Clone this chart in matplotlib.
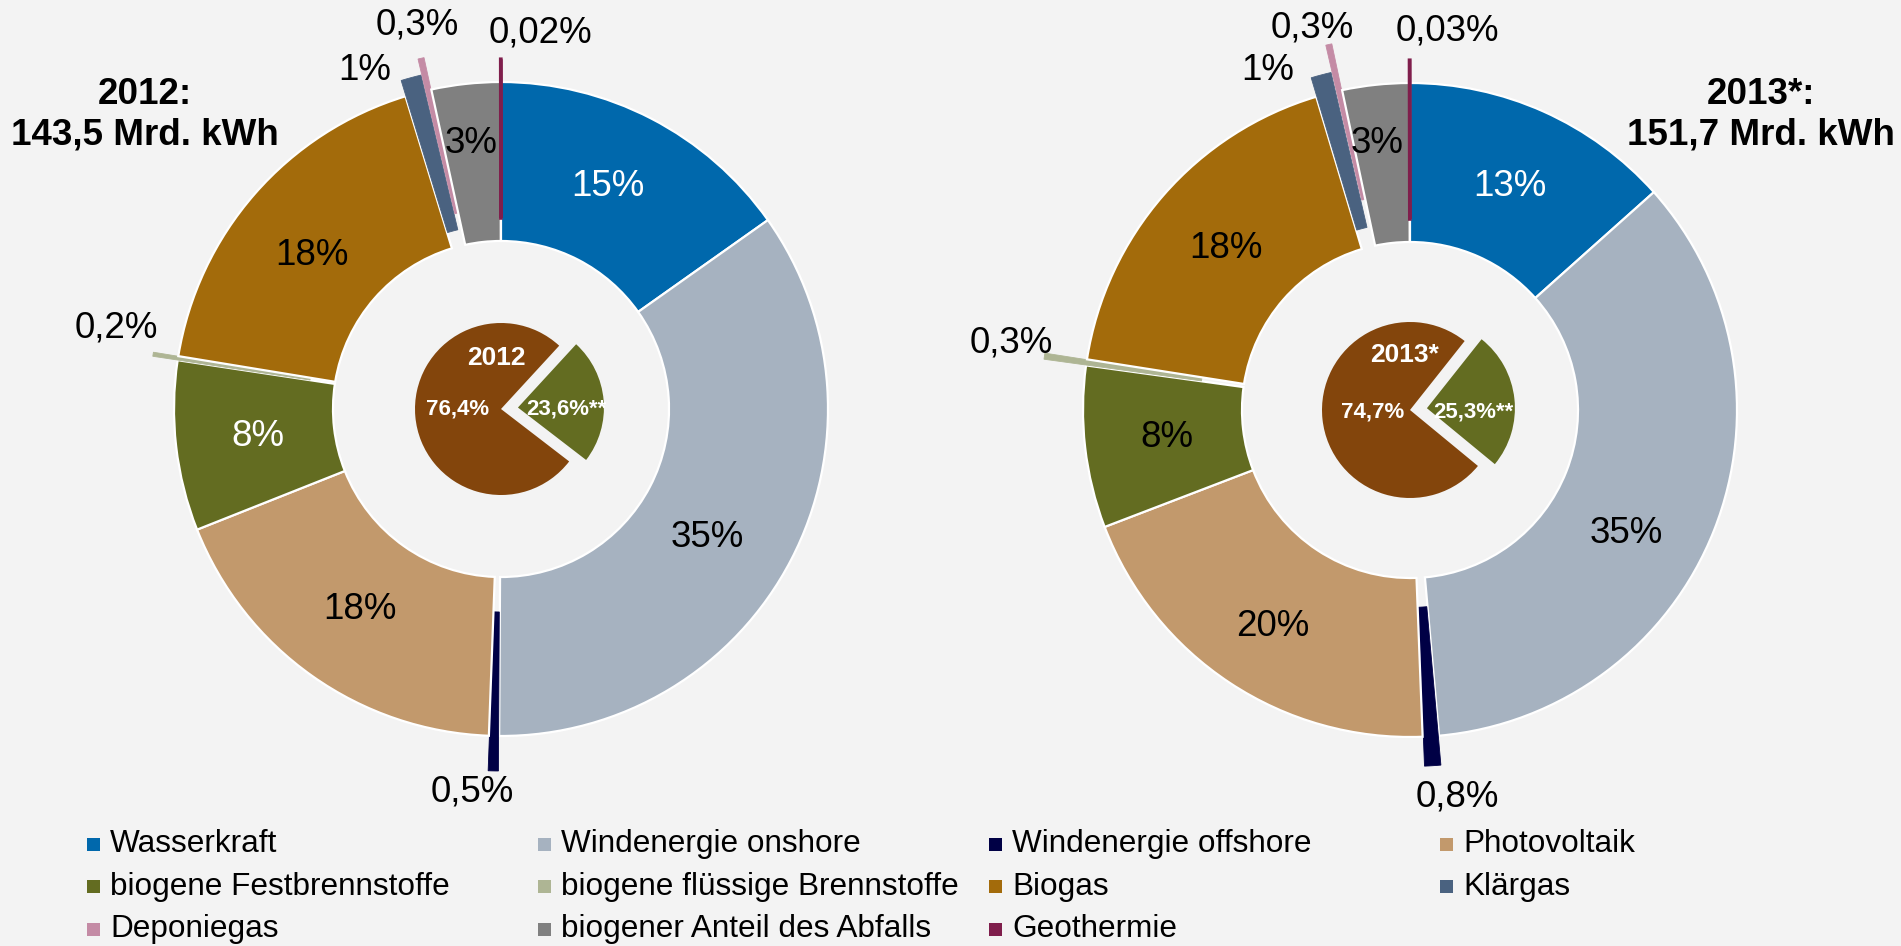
import matplotlib
matplotlib.use("Agg")
import matplotlib.pyplot as plt
from matplotlib.patches import Rectangle
import numpy as np

plt.rcParams['font.family'] = ['Liberation Sans', 'DejaVu Sans']

# ---------------- data ----------------
categories = ["Wasserkraft", "Windenergie onshore", "Windenergie offshore", "Photovoltaik",
              "biogene Festbrennstoffe", "biogene flüssige Brennstoffe", "Biogas", "Klärgas",
              "Deponiegas", "biogener Anteil des Abfalls", "Geothermie"]
shares_2012 = [15.2, 34.9, 0.5, 18.4, 8.4, 0.2, 17.7, 1.0, 0.3, 3.4, 0.02]
shares_2013 = [13.4, 35.2, 0.8, 19.8, 8.0, 0.3, 17.9, 1.0, 0.3, 3.3, 0.03]
labels_2012 = ["15%", "35%", "0,5%", "18%", "8%", "0,2%", "18%", "1%", "0,3%", "3%", "0,02%"]
labels_2013 = ["13%", "35%", "0,8%", "20%", "8%", "0,3%", "18%", "1%", "0,3%", "3%", "0,03%"]
inner_2012 = [23.6, 76.4]
inner_2013 = [25.3, 74.7]
inner_labels_2012 = ["23,6%**", "76,4%"]
inner_labels_2013 = ["25,3%**", "74,7%"]
year_2012 = "2012"
year_2013 = "2013*"
title_2012 = "2012:\n143,5 Mrd. kWh"
title_2013 = "2013*:\n151,7 Mrd. kWh"

# ---------------- style ----------------
BG = "#F3F3F3"
colors = ["#0068AC", "#A6B2C0", "#000045", "#C2996C", "#636C21", "#AEB594",
          "#A36B0B", "#4A6280", "#C48BA5", "#808080", "#7F1E4C"]
inner_colors = ["#636C21", "#83450C"]

W, H = 1901, 946
R = 327
RING = 159
LBL = 26.5

fig = plt.figure(figsize=(W / 100, H / 100), dpi=100, facecolor=BG)
ax = fig.add_axes([0, 0, 1, 1])
ax.set_facecolor(BG)


def donut(cx, cy, shares, labels, explode, outer_pos, ring_adj, white_idx,
          inner_shares, inner_labels, inner_r, inner_start, year, year_off, inner_off):
    centre = (cx, H - cy)
    wedges, _ = ax.pie(shares, colors=colors, radius=R, center=centre, startangle=90,
                       counterclock=False, explode=[e * R for e in explode],
                       wedgeprops=dict(width=RING, edgecolor="white", linewidth=1.6))
    for i in (2, 5, 7, 8):
        wedges[i].set_edgecolor(wedges[i].get_facecolor())
        wedges[i].set_linewidth(0.6)
    wedges[10].set_edgecolor(wedges[10].get_facecolor())
    wedges[10].set_linewidth(2.4)
    # labels in the ring
    for i in (0, 1, 3, 4, 6):
        w = wedges[i]
        mid = np.deg2rad((w.theta1 + w.theta2) / 2)
        adx, ady = ring_adj.get(i, (0, 0))
        x = w.center[0] + 245 * np.cos(mid) + adx
        y = w.center[1] + 245 * np.sin(mid) - ady
        ax.text(x, y, labels[i], ha="center", va="center", fontsize=LBL,
                color="white" if i in white_idx else "black")
    for i, (dx, dy) in outer_pos.items():
        ax.text(cx + dx, H - (cy + dy), labels[i], ha="center", va="center",
                fontsize=LBL, color="black")
    # small centre pie
    ax.pie(inner_shares, colors=inner_colors, radius=inner_r, center=centre,
           startangle=inner_start, counterclock=False, explode=[17, 0],
           wedgeprops=dict(linewidth=0))
    ax.text(cx + year_off[0], H - (cy + year_off[1]), year, ha="center", va="center",
            fontsize=19, fontweight="bold", color="white")
    ax.text(cx + inner_off[1][0], H - (cy + inner_off[1][1]), inner_labels[1], ha="center",
            va="center", fontsize=16, fontweight="bold", color="white")
    ax.text(cx + inner_off[0][0], H - (cy + inner_off[0][1]), inner_labels[0], ha="center",
            va="center", fontsize=16, fontweight="bold", color="white")


donut(501, 409, shares_2012, labels_2012,
      [0, 0, 0.107, 0, 0, 0.077, 0, 0.05, 0.10, 0, 0.07],
      {2: (-29, 383), 5: (-385, -81), 7: (-136, -338), 8: (-84, -384), 9: (-30, -265), 10: (39, -376)},
      {1: (-11, 15), 6: (-5, 8), 0: (-6, -5)},
      (0, 4), inner_2012, inner_labels_2012, 86, 47.4, year_2012, (-5, -51),
      [(65, 0), (-43, 0)])

donut(1410, 410, shares_2013, labels_2013,
      [0, 0, 0.09, 0, 0, 0.13, 0, 0.06, 0.145, 0, 0.07],
      {2: (47, 387), 5: (-399, -67), 7: (-142, -339), 8: (-98, -382), 9: (-33, -266), 10: (37, -379)},
      {1: (-12, 33), 3: (-2, 12)},
      (0,), inner_2013, inner_labels_2013, 88, 51.6, year_2013, (-5, -55),
      [(63, 2), (-37, 2)])

# titles
ax.text(145, H - 115, title_2012, ha="center", va="center", fontsize=LBL,
        fontweight="bold", linespacing=1.2)
ax.text(1761, H - 115, title_2013, ha="center", va="center", fontsize=LBL,
        fontweight="bold", linespacing=1.2)

# legend (4 columns, row-major)
for i, name in enumerate(categories):
    row, col = divmod(i, 4)
    x0 = 87 + col * 451
    y = 844 + row * 42.5
    ax.add_patch(Rectangle((x0, H - y - 6.5), 13, 13, facecolor=colors[i], edgecolor="none"))
    ax.text(x0 + 23, H - y, name, ha="left", va="center", fontsize=22.7, color="black")

ax.set_xlim(0, W)
ax.set_ylim(0, H)
ax.set_aspect("equal")
ax.axis("off")

fig.savefig("out.png", dpi=100, facecolor=BG)
